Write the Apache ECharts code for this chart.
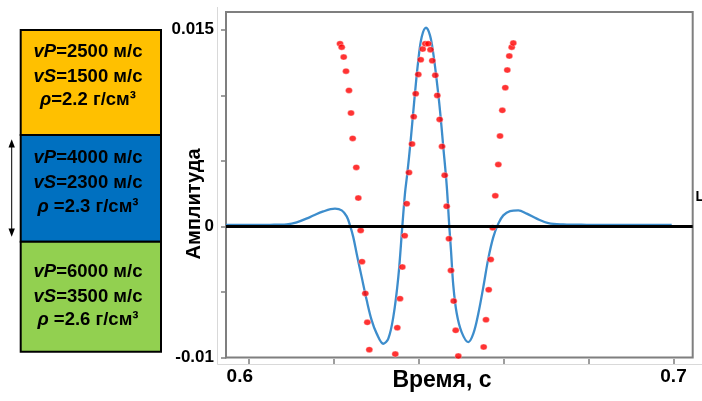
<!DOCTYPE html>
<html>
<head>
<meta charset="utf-8">
<script src="https://cdn.jsdelivr.net/npm/echarts@6/dist/echarts.min.js"></script>
<style>
  html, body { margin: 0; padding: 0; background: #fff; }
  #chart { width: 702px; height: 401px; }
</style>
</head>
<body>
<div id="chart"></div>
<script>
// Synthetic trace (blue line): time, s and amplitude
const blueTime = [0.59476, 0.6004, 0.6051, 0.60903, 0.61138, 0.61451, 0.61764, 0.62039, 0.62197, 0.62314,
  0.62392, 0.62469, 0.62549, 0.62667, 0.62785, 0.62902, 0.63020, 0.63175, 0.63293, 0.63410,
  0.63528, 0.63622, 0.63685, 0.63739, 0.63819, 0.63904, 0.63998, 0.64078, 0.64179, 0.64273,
  0.64351, 0.64431, 0.64508, 0.64586, 0.64666, 0.64727, 0.64767, 0.64821, 0.64901, 0.65019,
  0.65174, 0.65292, 0.65409, 0.65527, 0.65644, 0.65762, 0.65880, 0.65997, 0.66155, 0.66350,
  0.66548, 0.66783, 0.67056, 0.67408, 0.67959, 0.68742, 0.69958];
const blueAmp = [0.00011, 0.00011, 0.00012, 0.00016, 0.00031, 0.00071, 0.00114, 0.00135, 0.00122, 0.00076,
  0.00008, -0.00082, -0.00208, -0.00387, -0.00564, -0.00717, -0.00818, -0.00895, -0.00856, -0.00692,
  -0.00387, 0, 0.00252, 0.00402, 0.00656, 0.00961, 0.01266, 0.01444, 0.01515, 0.01457,
  0.01317, 0.01113, 0.00885, 0.00605, 0.00313, 0, -0.00183, -0.00450, -0.00663, -0.00808,
  -0.00882, -0.00818, -0.00666, -0.00463, -0.00246, -0.00082, 0.00021, 0.00084, 0.00117, 0.00122,
  0.00097, 0.00059, 0.00025, 0.00015, 0.00012, 0.00011, 0.00011];

// Sampled trace (red dots)
const redTime = [0.62157, 0.62197, 0.62244, 0.62298, 0.62368, 0.62416, 0.62455, 0.62540, 0.62587, 0.62643,
  0.62674, 0.62752, 0.62799, 0.62846,
  0.63457, 0.63504, 0.63568, 0.63622, 0.63678, 0.63725,
  0.63779, 0.63850, 0.63890, 0.63937, 0.63998, 0.64055, 0.64102, 0.64163, 0.64233, 0.64285,
  0.64327, 0.64398, 0.64445, 0.64501, 0.64556, 0.64619, 0.64666, 0.64720, 0.64767, 0.64831,
  0.64878, 0.64939,
  0.65536, 0.65590, 0.65654, 0.65701, 0.65748, 0.65809, 0.65880, 0.65920, 0.65974, 0.66044,
  0.66091, 0.66138, 0.66195, 0.66232];
const redAmp = [0.01393, 0.01367, 0.01291, 0.01184, 0.01037, 0.00864, 0.00671, 0.00450, 0.00216, -0.00031,
  -0.00269, -0.00511, -0.00732, -0.00940,
  -0.00974, -0.00773, -0.00551, -0.00310, -0.00071, 0.00173,
  0.00410, 0.00628, 0.00837, 0.01012, 0.01159, 0.01271, 0.01352, 0.01393, 0.01393, 0.01348,
  0.01264, 0.01152, 0.00999, 0.00816, 0.00610, 0.00389, 0.00153, -0.00094, -0.00336, -0.00570,
  -0.00793, -0.00989,
  -0.00920, -0.00712, -0.00483, -0.00252, -0.00010, 0.00233, 0.00471, 0.00689, 0.00885, 0.01058,
  0.01192, 0.01299, 0.01367, 0.01398];

// Axis ticks and labels
const xTicks = [0.6, 0.62, 0.64, 0.66, 0.68, 0.7];
const xLabels = [0.6, 0.7];
const yTicks = [-0.01, -0.005, 0, 0.005, 0.01, 0.015];
const yLabels = [-0.01, 0, 0.015];

// Layer model
const layerVp = ['2500', '4000', '6000'];
const layerVs = ['1500', '2300', '3500'];
const layerRho = ['=2.2', ' =2.3', ' =2.6'];
const layerColors = ['#ffc000', '#0070c0', '#92d050'];

const FONT = "'Liberation Sans', Arial, sans-serif";

const bluePairs = blueTime.map((t, i) => [t, blueAmp[i]]);
const redPairs = redTime.map((t, i) => [t, redAmp[i]]);

// Left panel: coloured layers with their parameters
const panel = [];
const boxTop = [30, 135, 241.7, 351.7];
const lineY = [[51.7, 76.7, 100], [158.3, 183.3, 206.7], [271.7, 296.7, 320]];
for (let k = 0; k < 3; k++) {
  panel.push({
    type: 'rect',
    shape: { x: 20.7, y: boxTop[k], width: 140.3, height: boxTop[k + 1] - boxTop[k] },
    style: { fill: layerColors[k], stroke: '#000', lineWidth: 2 },
    z: 1
  });
}
const rich = {
  i: { fontFamily: FONT, fontWeight: 'bold', fontStyle: 'italic', fontSize: 18.5, fill: '#000' },
  n: { fontFamily: FONT, fontWeight: 'bold', fontSize: 18.5, fill: '#000' }
};
for (let k = 0; k < 3; k++) {
  const rows = [
    '{i|vP}{n|=' + layerVp[k] + ' м/с}',
    '{i|vS}{n|=' + layerVs[k] + ' м/с}',
    '{i|ρ}{n|' + layerRho[k] + ' г/см³}'
  ];
  rows.forEach((txt, r) => {
    panel.push({
      type: 'text',
      x: 88, y: lineY[k][r],
      style: { text: txt, rich: rich, align: 'center', verticalAlign: 'middle' },
      z: 3
    });
  });
}
// double-headed arrow beside the middle layer
panel.push({
  type: 'line', shape: { x1: 11.7, y1: 145, x2: 11.7, y2: 231 },
  style: { stroke: '#000', lineWidth: 1 }, z: 2
});
panel.push({
  type: 'polygon', shape: { points: [[11.7, 139.3], [8.5, 147.5], [14.9, 147.5]] },
  style: { fill: '#000' }, z: 2
});
panel.push({
  type: 'polygon', shape: { points: [[11.7, 236.7], [8.5, 228.5], [14.9, 228.5]] },
  style: { fill: '#000' }, z: 2
});

// light outer frame around the plot
panel.push({
  type: 'polyline', shape: { points: [[217.5, 7], [217.5, 364.5], [702, 364.5]] },
  style: { stroke: '#d9d9d9', lineWidth: 1, fill: null }, z: 0
});
// axis names
panel.push({
  type: 'text', x: 194, y: 204, rotation: Math.PI / 2,
  style: { text: 'Амплитуда', fontFamily: FONT, fontWeight: 'bold', fontSize: 20, fill: '#000',
    align: 'center', verticalAlign: 'middle' }, z: 3
});
panel.push({
  type: 'text', x: 442, y: 381,
  style: { text: 'Время, с', fontFamily: FONT, fontWeight: 'bold', fontSize: 23, fill: '#000',
    align: 'center', verticalAlign: 'middle' }, z: 3
});
panel.push({
  type: 'text', x: 695.5, y: 197,
  style: { text: 'L', fontFamily: FONT, fontWeight: 'bold', fontSize: 14, fill: '#000',
    align: 'left', verticalAlign: 'middle' }, z: 3
});

const chart = echarts.init(document.getElementById('chart'), null, { renderer: 'canvas' });
chart.setOption({
  animation: false,
  backgroundColor: '#fff',
  grid: {
    left: 226, top: 12, right: 9.3, bottom: 43.5,
    show: true, borderColor: '#7f7f7f', borderWidth: 2, backgroundColor: 'transparent'
  },
  xAxis: {
    type: 'value',
    min: 0.594755, max: 0.704516,
    offset: 6.5,
    axisLine: { show: false, onZero: false },
    splitLine: { show: false },
    axisTick: { show: true, inside: true, length: 5, customValues: xTicks,
      lineStyle: { color: '#7f7f7f', width: 1.5 } },
    axisLabel: {
      customValues: xLabels, margin: 3,
      formatter: v => (Math.abs(v - 0.6) < 1e-6 ? '{l|0.6}' : '{n|0.7}'),
      rich: {
        l: { fontFamily: FONT, fontWeight: 'bold', fontSize: 19, color: '#000', padding: [0, 17, 0, 0] },
        n: { fontFamily: FONT, fontWeight: 'bold', fontSize: 19, color: '#000' }
      }
    }
  },
  yAxis: {
    type: 'value',
    min: -0.01, max: 0.01635,
    axisLine: { show: true, onZero: false, lineStyle: { color: '#7f7f7f', width: 2 } },
    splitLine: { show: false },
    axisTick: { show: true, length: 5, customValues: yTicks, lineStyle: { color: '#7f7f7f', width: 1.5 } },
    axisLabel: {
      customValues: yLabels, margin: 12,
      fontFamily: FONT, fontWeight: 'bold', fontSize: 17, color: '#000',
      formatter: v => (Math.abs(v) < 1e-9 ? '0' : (Math.abs(v + 0.01) < 1e-9 ? '-0.01' : '0.015'))
    }
  },
  graphic: panel,
  series: [
    {
      name: 'zero',
      type: 'line',
      data: [],
      z: 1,
      markLine: {
        silent: true, symbol: 'none', label: { show: false },
        lineStyle: { color: '#000', width: 3, type: 'solid' },
        data: [{ yAxis: 0 }]
      }
    },
    {
      name: 'model',
      type: 'line',
      data: bluePairs,
      smooth: 0.35,
      showSymbol: false,
      z: 2,
      lineStyle: { color: '#3d8dcc', width: 2.3 },
      itemStyle: { color: '#3d8dcc' }
    },
    {
      name: 'samples',
      type: 'scatter',
      data: redPairs,
      symbol: 'circle',
      symbolSize: [7, 6],
      z: 3,
      itemStyle: { color: '#ff0000', borderColor: 'rgba(255,255,255,0.7)', borderWidth: 0.6 }
    }
  ]
});
</script>
</body>
</html>
